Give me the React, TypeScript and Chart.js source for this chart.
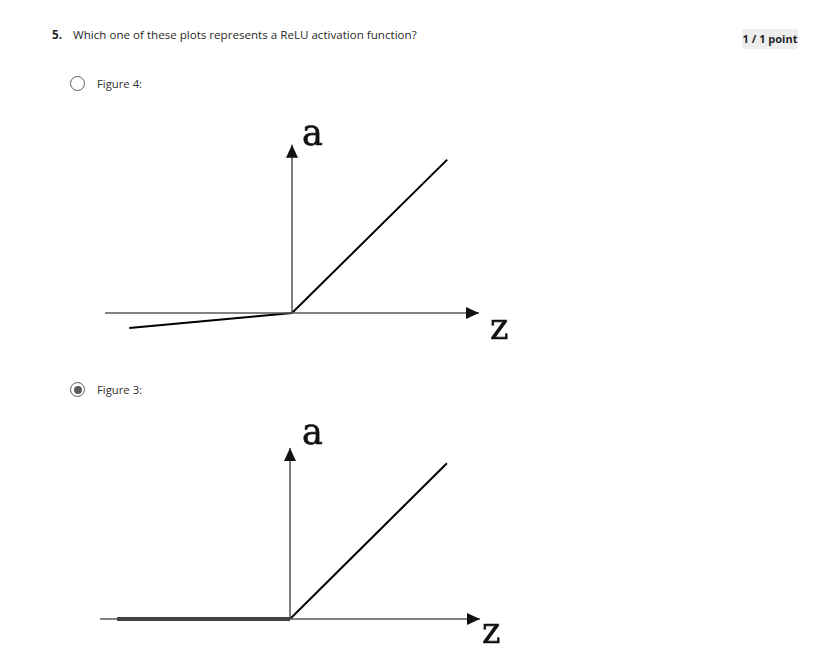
import React, { useEffect, useRef } from "react";
import { Chart, registerables } from "chart.js";

Chart.register(...registerables);

// ---- Data ----
const axisLabels = ["a", "z"];

// Figure 4 (leaky ReLU)
const fig4CurveX = [-8.7, 0, 8.3];
const fig4CurveY = [-0.8, 0, 8.2];
const fig4XAxis = [-10, 10];
const fig4YAxis = [0, 9.0];
const fig4LabelX = [0.53, 10.59];
const fig4LabelY = [8.98, -1.39];

// Figure 3 (ReLU)
const fig3CurveX = [-9.1, 0, 8.26];
const fig3CurveY = [0, 0, 8.2];
const fig3XAxis = [-10, 10];
const fig3YAxis = [0, 9.0];
const fig3LabelX = [0.63, 10.1];
const fig3LabelY = [9.21, -1.26];

const pts = (xs: number[], ys: number[]) => xs.map((x, i) => ({ x, y: ys[i] }));

const arrowPlugin = {
  id: "axisArrowsAndLabels",
  afterDatasetsDraw(chart: any) {
    const ctx = chart.ctx;
    const opts = chart.options.plugins.axisArrowsAndLabels || {};
    const xs = chart.scales.x;
    const ys = chart.scales.y;
    const L = 13;
    const W = 6;
    ctx.save();
    ctx.fillStyle = "#111";
    const xMeta = chart.getDatasetMeta(0).data;
    const yMeta = chart.getDatasetMeta(1).data;
    const xt = xMeta[xMeta.length - 1];
    const yt = yMeta[yMeta.length - 1];
    if (xt) {
      ctx.beginPath();
      ctx.moveTo(xt.x, xt.y);
      ctx.lineTo(xt.x - L, xt.y - W);
      ctx.lineTo(xt.x - L, xt.y + W);
      ctx.closePath();
      ctx.fill();
    }
    if (yt) {
      ctx.beginPath();
      ctx.moveTo(yt.x, yt.y);
      ctx.lineTo(yt.x - W, yt.y + L);
      ctx.lineTo(yt.x + W, yt.y + L);
      ctx.closePath();
      ctx.fill();
    }
    const labels = opts.labels || [];
    ctx.font = '35px "DejaVu Serif"';
    ctx.textAlign = "left";
    ctx.textBaseline = "alphabetic";
    ctx.fillStyle = "#111";
    ctx.strokeStyle = "#111";
    ctx.lineWidth = 0.6;
    labels.forEach((l: any) => {
      const px = xs.getPixelForValue(l.x);
      const py = ys.getPixelForValue(l.y);
      ctx.fillText(l.text, px, py);
      ctx.strokeText(l.text, px, py);
    });
    ctx.restore();
  },
};

type PlotProps = {
  curveX: number[];
  curveY: number[];
  xAxis: number[];
  yAxis: number[];
  labelX: number[];
  labelY: number[];
  yMin: number;
  yMax: number;
  flatWidth: number;
  slopeWidth: number;
  left: number;
  top: number;
  width: number;
  height: number;
  padding: { left: number; right: number; top: number; bottom: number };
};

function ActivationPlot(p: PlotProps) {
  const ref = useRef<HTMLCanvasElement | null>(null);
  useEffect(() => {
    if (!ref.current) return;
    const chart = new Chart(ref.current, {
      type: "scatter",
      data: {
        datasets: [
          {
            data: pts(p.xAxis, [0, 0]),
            showLine: true,
            borderColor: "#5a5a5a",
            borderWidth: 1.3,
            pointRadius: 0,
            clip: false as any,
          },
          {
            data: pts([0, 0], p.yAxis),
            showLine: true,
            borderColor: "#3a3a3a",
            borderWidth: 1.3,
            pointRadius: 0,
            clip: false as any,
          },
          {
            data: pts(p.curveX, p.curveY),
            showLine: true,
            borderColor: "#000",
            borderWidth: p.slopeWidth,
            pointRadius: 0,
            clip: false as any,
            segment: {
              borderWidth: (c: any) => (c.p1DataIndex === 1 ? p.flatWidth : p.slopeWidth),
            },
          } as any,
        ],
      },
      options: {
        animation: false,
        responsive: false,
        devicePixelRatio: 1,
        layout: { padding: p.padding },
        events: [],
        scales: {
          x: { type: "linear", min: p.xAxis[0], max: p.xAxis[1], display: false },
          y: { type: "linear", min: p.yMin, max: p.yMax, display: false },
        },
        plugins: {
          legend: { display: false },
          tooltip: { enabled: false },
          axisArrowsAndLabels: {
            labels: axisLabels.map((t, i) => ({ text: t, x: p.labelX[i], y: p.labelY[i] })),
          },
        } as any,
      },
      plugins: [arrowPlugin],
    });
    return () => chart.destroy();
  }, []);
  return (
    <canvas
      ref={ref}
      width={p.width}
      height={p.height}
      style={{ position: "absolute", left: p.left, top: p.top, width: p.width, height: p.height }}
    />
  );
}

const textFont = '"Open Sans", "Noto Sans", sans-serif';

function Radio({ x, y, checked }: { x: number; y: number; checked: boolean }) {
  return (
    <div
      style={{
        position: "absolute",
        left: x - 8,
        top: y - 8,
        width: 13,
        height: 13,
        borderRadius: "50%",
        border: "1.5px solid #5c5c5c",
        display: "flex",
        alignItems: "center",
        justifyContent: "center",
      }}
    >
      {checked && (
        <div style={{ width: 8, height: 8, borderRadius: "50%", background: "#5c5c5c" }} />
      )}
    </div>
  );
}

export default function App() {
  return (
    <div
      style={{
        position: "absolute",
        left: 0,
        top: 0,
        width: 834,
        height: 659,
        overflow: "hidden",
        background: "#fff",
        fontFamily: textFont,
        color: "#1f1f1f",
      }}
    >
      <div style={{ position: "absolute", left: 52, top: 26, fontSize: 11.6, fontWeight: 700, lineHeight: "18px" }}>5.</div>
      <div style={{ position: "absolute", left: 73, top: 26, fontSize: 11.6, lineHeight: "18px", color: "#2a2a2a" }}>
        Which one of these plots represents a ReLU activation function?
      </div>
      <div
        style={{
          position: "absolute",
          left: 742,
          top: 29,
          width: 56,
          height: 20,
          background: "#eeeeee",
          borderRadius: 3,
          fontSize: 11,
          fontWeight: 700,
          lineHeight: "20px",
          textAlign: "center",
          color: "#1f1f1f",
        }}
      >
        1 / 1 point
      </div>

      <Radio x={78} y={84} checked={false} />
      <div style={{ position: "absolute", left: 97, top: 75, fontSize: 11.3, lineHeight: "18px", color: "#333" }}>
        Figure 4:
      </div>
      <ActivationPlot
        curveX={fig4CurveX}
        curveY={fig4CurveY}
        xAxis={fig4XAxis}
        yAxis={fig4YAxis}
        labelX={fig4LabelX}
        labelY={fig4LabelY}
        yMin={-2}
        yMax={10}
        flatWidth={2}
        slopeWidth={2}
        left={90}
        top={110}
        width={450}
        height={250}
        padding={{ left: 15, right: 61, top: 16, bottom: 9.6 }}
      />

      <Radio x={78} y={390} checked={true} />
      <div style={{ position: "absolute", left: 97, top: 381, fontSize: 11.3, lineHeight: "18px", color: "#333" }}>
        Figure 3:
      </div>
      <ActivationPlot
        curveX={fig3CurveX}
        curveY={fig3CurveY}
        xAxis={fig3XAxis}
        yAxis={fig3YAxis}
        labelX={fig3LabelX}
        labelY={fig3LabelY}
        yMin={-1.5}
        yMax={10}
        flatWidth={3.5}
        slopeWidth={2}
        left={90}
        top={410}
        width={450}
        height={245}
        padding={{ left: 10, right: 60, top: 19, bottom: 7.5 }}
      />
    </div>
  );
}
